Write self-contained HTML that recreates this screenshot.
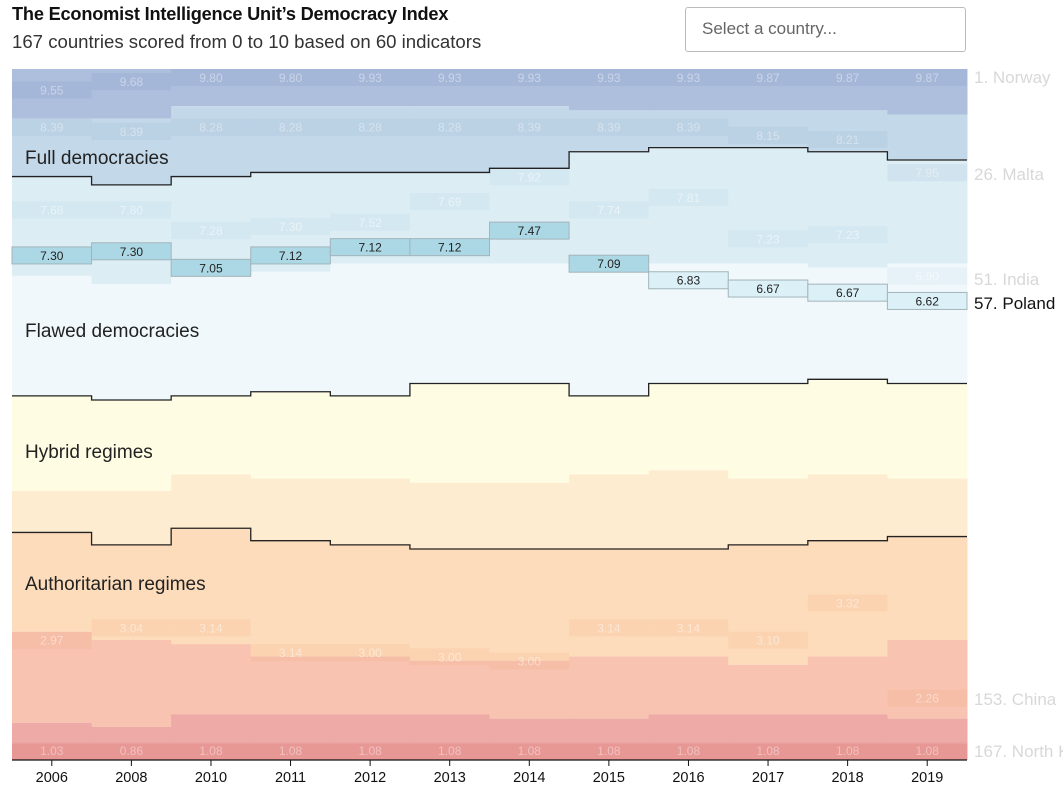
<!DOCTYPE html>
<html><head><meta charset="utf-8">
<style>
body{margin:0;background:#fff;font-family:"Liberation Sans",sans-serif;}
#wrap{position:relative;width:1063px;height:793px;overflow:hidden;}
.t{position:absolute;left:12px;top:4px;font-size:18.2px;font-weight:bold;color:#111;white-space:nowrap;letter-spacing:-0.2px;}
.s{position:absolute;left:12px;top:31px;font-size:18.6px;color:#333;white-space:nowrap;}
.sel{position:absolute;left:685px;top:7px;width:281px;height:45px;border:1px solid #bbb;border-radius:3px;box-sizing:border-box;font-size:17px;color:#666;padding:11px 0 0 16px;}
svg{position:absolute;left:0;top:0;}
</style></head><body>
<div id="wrap">
<div class="t">The Economist Intelligence Unit’s Democracy Index</div>
<div class="s">167 countries scored from 0 to 10 based on 60 indicators</div>
<div class="sel">Select a country...</div>
<svg id="chart" width="1063" height="793"></svg>
</div>
<script>
const years=["2006","2008","2010","2011","2012","2013","2014","2015","2016","2017","2018","2019"];
// cumulative country counts at category boundaries
const fullEnd=[26,28,26,25,25,25,24,20,19,19,20,22];
const flawedEnd=[79,80,79,78,79,76,76,79,76,76,75,76];
const hybridEnd=[112,115,111,114,115,116,116,116,116,115,114,113];
// cumulative counts at score sub-boundaries
const above9=[12,12,9,9,9,9,9,10,10,10,10,11];
const above7=[50,52,49,49,47,47,47,49,47,47,48,47];
const above5=[102,102,98,99,99,100,100,98,97,99,98,99];
const above3=[136,138,139,142,142,143,143,142,142,144,142,138];
const above2=[158,159,156,156,156,156,157,157,156,156,156,157];
const above1=[163,163,163,163,163,163,163,163,163,163,163,163];
// highlighted countries: ranks and scores
const norwayRank=[4,2,1,1,1,1,1,1,1,1,1,1];
const norwayScore=["9.55","9.68","9.80","9.80","9.93","9.93","9.93","9.93","9.93","9.87","9.87","9.87"];
const maltaRank=[13,14,13,13,13,13,13,13,13,15,16,24];
const maltaScore=["8.39","8.39","8.28","8.28","8.28","8.28","8.39","8.39","8.39","8.15","8.21","7.95"];
const indiaRank=[33,33,38,37,36,31,25,33,30,40,39,49];
const indiaScore=["7.68","7.80","7.28","7.30","7.52","7.69","7.92","7.74","7.81","7.23","7.23","6.90"];
const chinaRank=[137,134,134,140,140,141,142,134,134,137,128,151];
const chinaScore=["2.97","3.04","3.14","3.14","3.00","3.00","3.00","3.14","3.14","3.10","3.32","2.26"];
const nkRank=[167,167,167,167,167,167,167,167,167,167,167,167];
const nkScore=["1.03","0.86","1.08","1.08","1.08","1.08","1.08","1.08","1.08","1.08","1.08","1.08"];
const polandRank=[44,43,47,44,42,42,38,46,50,52,53,55];
const polandScore=["7.30","7.30","7.05","7.12","7.12","7.12","7.47","7.09","6.83","6.67","6.67","6.62"];

const svg=document.getElementById('chart');
const NS='http://www.w3.org/2000/svg';
const X0=12,X1=967,Y0=69,Y1=760,N=167;
const colW=(X1-X0)/years.length;
const rowH=(Y1-Y0)/N;
function xs(i){return X0+i*colW;}
function ys(c){return Y0+c*rowH;}
function mk(tag,attrs,parent){const e=document.createElementNS(NS,tag);for(const k in attrs)e.setAttribute(k,attrs[k]);(parent||svg).appendChild(e);return e;}
years.forEach((yr,i)=>{
  const b=[0,above9[i],fullEnd[i],above7[i],flawedEnd[i],above5[i],hybridEnd[i],above3[i],above2[i],above1[i],N];
  const order=[[0,1,"#adbfdd"],[1,2,"#c3d8e8"],[2,3,"#dcedf4"],[3,4,"#f0f8fb"],[4,5,"#fefde4"],[5,6,"#fdeccf"],[6,7,"#fddcbb"],[7,8,"#f8c3b0"],[8,9,"#eeaaa7"],[9,10,"#e99b98"]];
  order.forEach((o,k)=>{
    const r=mk('rect',{x:xs(i),y:ys(b[o[0]]),width:colW+0.5,height:Math.max(0,ys(b[o[1]])-ys(b[o[0]])),fill:o[2]});
    
    
  });
});
function boxY(rank){return Math.min(Y1-18,ys(rank-1));}
function drawCountry(name,ranks,scores,fill,txt){
  years.forEach((yr,i)=>{
    const y=boxY(ranks[i]);
    const r=mk('rect',{x:xs(i),y:y,width:colW,height:17,fill:fill});
    
    
    const t=mk('text',{x:xs(i)+colW/2,y:y+13,'text-anchor':'middle','font-size':12,fill:txt,'font-family':'Liberation Sans, sans-serif'});
    t.textContent=scores[i];
    
    
  });
}
drawCountry('norway',norwayRank,norwayScore,'rgba(120,140,190,0.15)','rgba(255,255,255,0.4)');
drawCountry('malta',maltaRank,maltaScore,'rgba(120,150,200,0.1)','rgba(255,255,255,0.4)');
drawCountry('india',indiaRank,indiaScore,'rgba(150,200,220,0.1)','rgba(255,255,255,0.5)');
drawCountry('china',chinaRank,chinaScore,'rgba(240,150,110,0.12)','rgba(255,255,255,0.45)');
drawCountry('north-korea',nkRank,nkScore,'rgba(220,120,120,0.1)','rgba(255,255,255,0.4)');
years.forEach((yr,i)=>{
  const y=boxY(polandRank[i]);
  const sc=parseFloat(polandScore[i]);
  const r=mk('rect',{x:xs(i),y:y,width:colW,height:17,fill:sc>=7?'#acd8e6':'#dcf0f7',stroke:'#a3b4ba','stroke-width':1});
  
  
  const t=mk('text',{x:xs(i)+colW/2,y:y+13,'text-anchor':'middle','font-size':12,fill:'#222','font-family':'Liberation Sans, sans-serif'});
  t.textContent=polandScore[i];
  
  
});
function stepPath(arr){let d='';arr.forEach((c,i)=>{const y=ys(c);d+=(i===0?'M':'L')+xs(i)+','+y+'L'+xs(i+1)+','+y;});return d;}
[['full-flawed-boundary',fullEnd],['flawed-hybrid-boundary',flawedEnd],['hybrid-authoritarian-boundary',hybridEnd]].forEach(p=>{
  const e=mk('path',{d:stepPath(p[1]),fill:'none',stroke:'#222','stroke-width':1.3});
  
  
});
[['full-democracies-label','Full democracies',164],['flawed-democracies-label','Flawed democracies',337],['hybrid-regimes-label','Hybrid regimes',458],['authoritarian-regimes-label','Authoritarian regimes',590]].forEach(l=>{
  const t=mk('text',{x:25,y:l[2],'font-size':19,fill:'#222','font-family':'Liberation Sans, sans-serif'});
  t.textContent=l[1];
  
  
});
[['norway-label','1. Norway',83,'#d8d8d8'],['malta-label','26. Malta',180,'#d8d8d8'],['india-label','51. India',285,'#d8d8d8'],['poland-label','57. Poland',309,'#111'],['china-label','153. China',705,'#d8d8d8'],['north-korea-label','167. North Korea',757,'#d8d8d8']].forEach(l=>{
  const t=mk('text',{x:974,y:l[2],'font-size':17,fill:l[3],'font-family':'Liberation Sans, sans-serif'});
  t.textContent=l[1];
  
  
});
const ax=mk('line',{x1:X0,x2:X1,y1:Y1,y2:Y1,stroke:'#111','stroke-width':1.2});


years.forEach((yr,i)=>{
  const cx=xs(i)+colW/2;
  const tk=mk('line',{x1:cx,x2:cx,y1:Y1,y2:Y1+6,stroke:'#111'});
  
  
  const t=mk('text',{x:cx,y:782,'text-anchor':'middle','font-size':14.5,fill:'#111','font-family':'Liberation Sans, sans-serif'});
  t.textContent=yr;
  
  
});
</script>
</body></html>
